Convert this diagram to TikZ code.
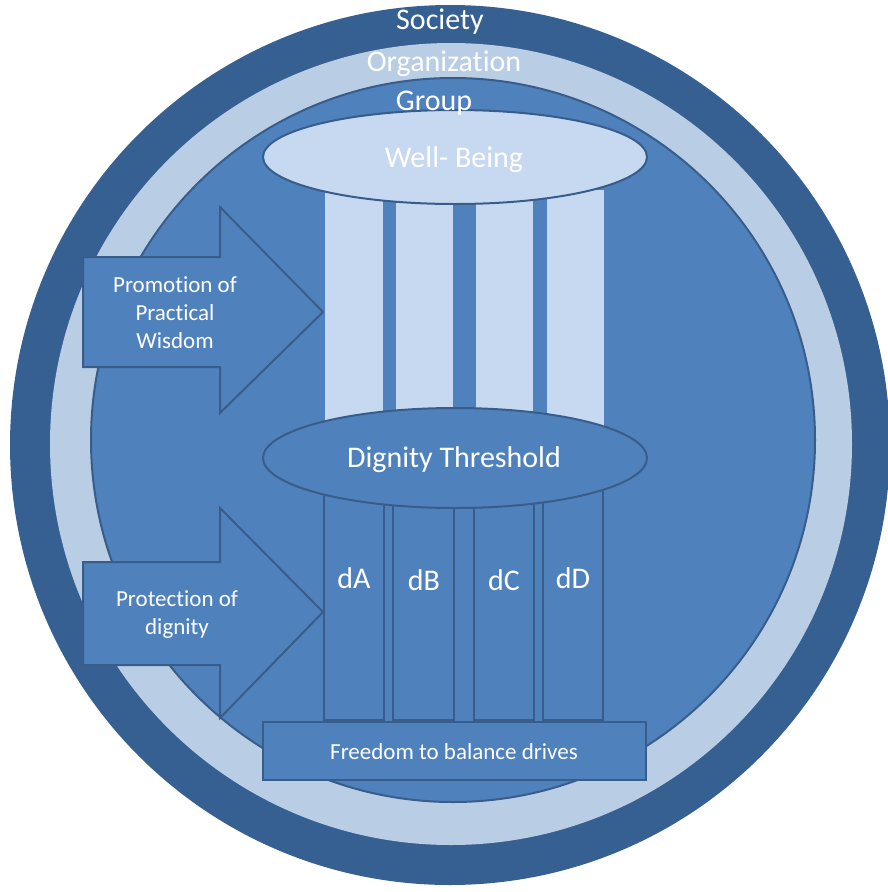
\documentclass[tikz,border=0pt]{standalone}
\usepackage{fontspec}
\setmainfont{Carlito}[Ligatures=NoCommon]
\definecolor{societyblue}{HTML}{376092}
\definecolor{orgblue}{HTML}{B9CDE5}
\definecolor{groupblue}{HTML}{4F81BD}
\definecolor{edgeblue}{HTML}{385D8A}
\definecolor{paleblue}{HTML}{C6D9F1}
\tikzset{
  panel/.style={fill=groupblue, draw=edgeblue, line width=2pt},
  biglabel/.style={text=white, font=\fontsize{30}{34}\selectfont},
  smalllabel/.style={text=white, align=center, font=\fontsize{23}{28}\selectfont}
}
\begin{document}
\begin{tikzpicture}[x=1pt, y=-1pt]
    \clip (0, 0) rectangle (888, 892);

    % rings
    \fill[societyblue] (450, 445) circle (440);
    \fill[orgblue] (451, 444) circle (401);
    \draw[panel] (453, 440) circle (362);

    % light pillars
    \fill[paleblue] (325, 190) rectangle (383, 430);
    \fill[paleblue] (396, 190) rectangle (453, 430);
    \fill[paleblue] (476, 190) rectangle (533, 430);
    \fill[paleblue] (547, 190) rectangle (604, 430);

    % dignity pillars
    \draw[panel] (324, 470) rectangle (384, 720);
    \draw[panel] (393, 470) rectangle (454, 720);
    \draw[panel] (474, 470) rectangle (534, 720);
    \draw[panel] (543, 470) rectangle (603, 720);

    % ellipses
    \draw[panel, fill=paleblue] (455, 157) ellipse (192 and 47);
    \draw[panel] (455, 458) ellipse (192 and 50);

    % base
    \draw[panel] (263, 722) rectangle (646, 780);

    % arrows
    \draw[panel] (83, 257) -- (220, 257) -- (220, 207) -- (323, 312)
        -- (220, 413) -- (220, 367) -- (83, 367) -- cycle;
    \draw[panel] (83, 562) -- (220, 562) -- (220, 508) -- (323, 612)
        -- (220, 718) -- (220, 665) -- (83, 665) -- cycle;

    % texts
    \node[biglabel] (society) at (440, 22) {Society};
    \node[biglabel] (organization) at (444, 64) {Organization};
    \node[biglabel] (group) at (434, 103) {Group};
    \node[biglabel] (wellbeing) at (454, 160) {Well- Being};
    \node[biglabel] (threshold) at (454, 460) {Dignity Threshold};

    \node[biglabel] (da) at (354, 578) {dA};
    \node[biglabel] (db) at (424, 580) {dB};
    \node[biglabel] (dc) at (504, 580) {dC};
    \node[biglabel] (dd) at (573, 578) {dD};

    \node[smalllabel] (freedom) at (454, 752) {Freedom to balance drives};
    \node[smalllabel] (promotion) at (175, 313) {Promotion of\\Practical\\Wisdom};
    \node[smalllabel] (protection) at (177, 615) {Protection of\\dignity};
\end{tikzpicture}
\end{document}
